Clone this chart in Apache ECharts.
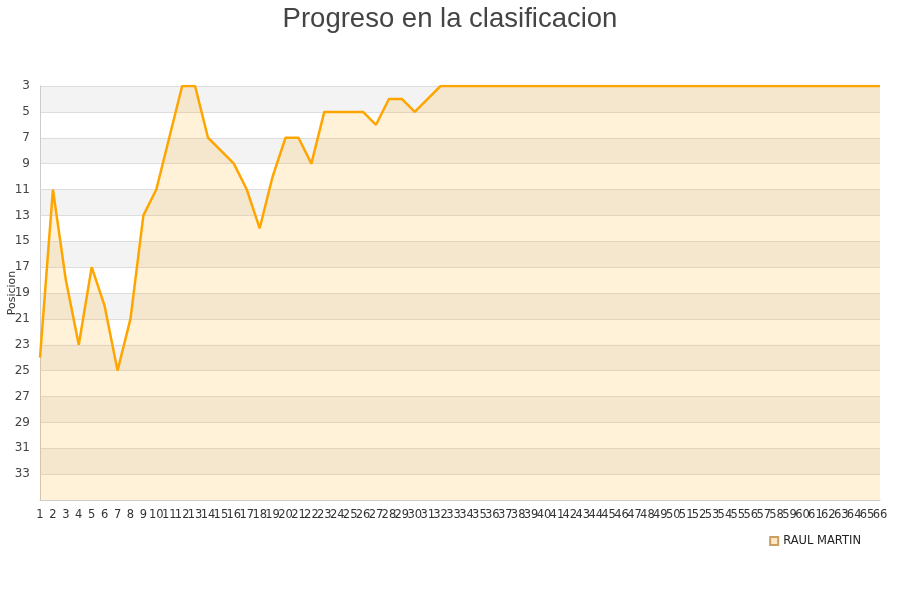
<!DOCTYPE html>
<html>
<head>
<meta charset="utf-8">
<script src="https://cdn.jsdelivr.net/npm/echarts@6/dist/echarts.min.js"></script>
<style>html,body{margin:0;padding:0;background:#fff}#c{width:900px;height:600px}</style>
</head>
<body>
<div id="c"></div>
<script>
const titleText = 'Progreso en la clasificacion';
const seriesName = 'RAUL MARTIN';
const yAxisName = 'Posicion';
const rounds = [];
for (let i = 1; i <= 66; i++) rounds.push(String(i));
const positions = [24, 11, 18, 23, 17, 20, 25, 21, 13, 11, 7, 3, 3, 7, 8, 9, 11, 14, 10, 7,
  7, 9, 5, 5, 5, 5, 6, 4, 4, 5, 4, 3, 3, 3, 3, 3, 3, 3, 3, 3,
  3, 3, 3, 3, 3, 3, 3, 3, 3, 3, 3, 3, 3, 3, 3, 3, 3, 3, 3, 3,
  3, 3, 3, 3, 3, 3];

const chart = echarts.init(document.getElementById('c'));
chart.setOption({
  animation: false,
  backgroundColor: '#fff',
  title: {
    text: titleText, left: 'center', top: 0,
    textStyle: { fontSize: 27.5, fontWeight: 'normal', color: '#444', fontFamily: 'Liberation Sans' }
  },
  legend: {
    data: [{ name: seriesName, icon: 'rect' }],
    right: 34, top: 530, itemWidth: 8, itemHeight: 8, itemGap: 10,
    textStyle: { fontSize: 11.5, color: '#222', fontFamily: 'DejaVu Sans' }
  },
  grid: { left: 40, right: 20, top: 86, bottom: 100, containLabel: false, outerBoundsMode: 'none' },
  xAxis: {
    type: 'category', data: rounds, boundaryGap: false,
    axisLine: { lineStyle: { color: '#ccc' } },
    axisTick: { show: false },
    axisLabel: { interval: 0, fontSize: 11.5, color: '#333', margin: 9, fontFamily: 'DejaVu Sans', hideOverlap: false },
    splitLine: { show: false }
  },
  yAxis: {
    type: 'value', inverse: true, min: 3, max: 35, interval: 2,
    name: yAxisName, nameLocation: 'middle', nameGap: 22, nameMoveOverlap: false,
    nameTextStyle: { fontSize: 11, color: '#333', fontFamily: 'DejaVu Sans' },
    axisLine: { show: true, lineStyle: { color: '#ccc' } },
    axisTick: { show: false },
    axisLabel: {
      fontSize: 12, color: '#444', margin: 10, fontFamily: 'DejaVu Sans',
      formatter: v => (v === 35 ? '' : v)
    },
    splitLine: { show: true, lineStyle: { color: '#ddd', width: 1 } },
    splitArea: { show: true, areaStyle: { color: ['#f3f3f3', '#ffffff'] } }
  },
  series: [{
    name: seriesName, type: 'line', data: positions,
    symbol: 'none', clip: true,
    lineStyle: { color: '#ffa500', width: 2.5 },
    itemStyle: { color: '#fde9c5', borderColor: '#c9a060', borderWidth: 1 },
    areaStyle: { color: 'rgba(255,165,0,0.21)', origin: 'end' }
  }]
});
</script>
</body>
</html>
